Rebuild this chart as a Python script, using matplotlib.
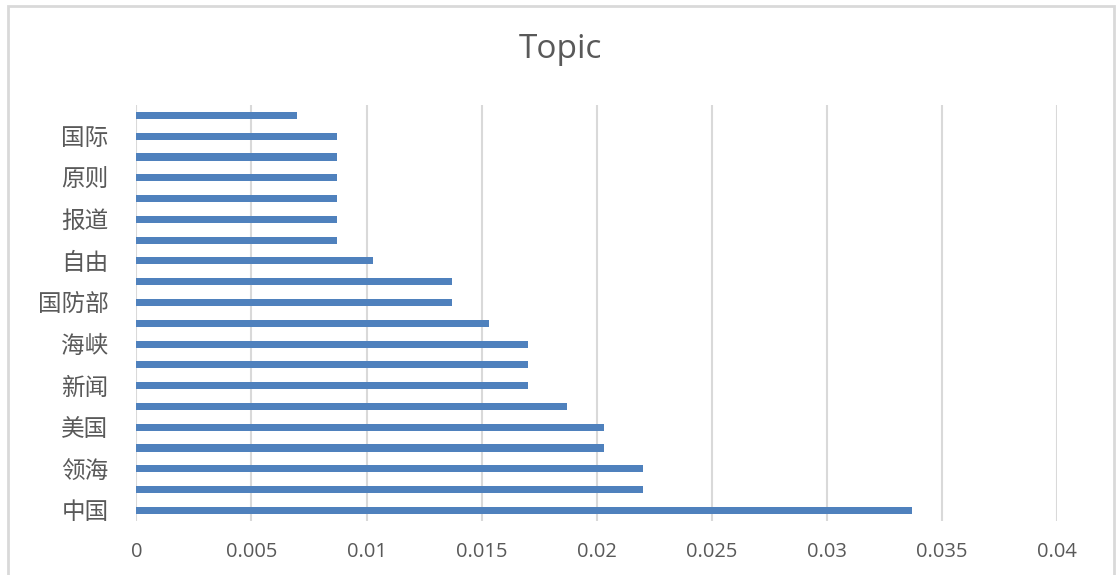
import matplotlib
matplotlib.use('Agg')
import matplotlib.pyplot as plt
from matplotlib.patches import Rectangle
import numpy as np

# bottom to top, only every other label is shown in the original
words = ['中国', '', '领海', '', '美国', '', '新闻', '', '海峡', '',
         '国防部', '', '自由', '', '报道', '', '原则', '', '国际', '']
weights = [0.0337, 0.0220, 0.0220, 0.0203, 0.0203, 0.0187, 0.0170, 0.0170, 0.0170, 0.0153,
           0.0137, 0.0137, 0.0103, 0.0087, 0.0087, 0.0087, 0.0087, 0.0087, 0.0087, 0.0070]
xticks = [0, 0.005, 0.01, 0.015, 0.02, 0.025, 0.03, 0.035, 0.04]
xlabels = ['0', '0.005', '0.01', '0.015', '0.02', '0.025', '0.03', '0.035', '0.04']

plt.rcParams['font.family'] = ['Open Sans', 'Noto Sans CJK SC', 'DejaVu Sans']

fig = plt.figure(figsize=(11.2, 5.75), dpi=100)
ax = fig.add_axes([0.1217, 0.0943, 0.944 - 0.1217, 0.8174 - 0.0943])

y = np.arange(len(words))
ax.barh(y, weights, height=0.34, color='#4f81bd', zorder=3)

ax.set_xlim(0, 0.04)
ax.set_ylim(-0.5, len(words) - 0.5)
ax.set_xticks(xticks)
ax.set_xticklabels(xlabels, fontsize=14.5, color='#595959')
ax.set_yticks(y)
ax.set_yticklabels(words, fontsize=17, color='#595959', family=['Noto Sans CJK SC', 'DejaVu Sans'])
ax.tick_params(axis='x', length=0, pad=15)
ax.tick_params(axis='y', length=0, pad=20)
ax.grid(axis='x', color='#d9d9d9', linewidth=1.5, zorder=0)
for s in ax.spines.values():
    s.set_visible(False)

fig.text(0.5, 1 - 50 / 575, 'Topic', ha='center', va='center', fontsize=24, color='#595959')

# chart border like the spreadsheet frame
fig.patches.append(Rectangle((8 / 1120, -0.05), (1114 - 8) / 1120, 1.05 - 6 / 575,
                             transform=fig.transFigure, fill=False,
                             edgecolor='#d9d9d9', linewidth=2))

plt.savefig('out.png', dpi=100)
